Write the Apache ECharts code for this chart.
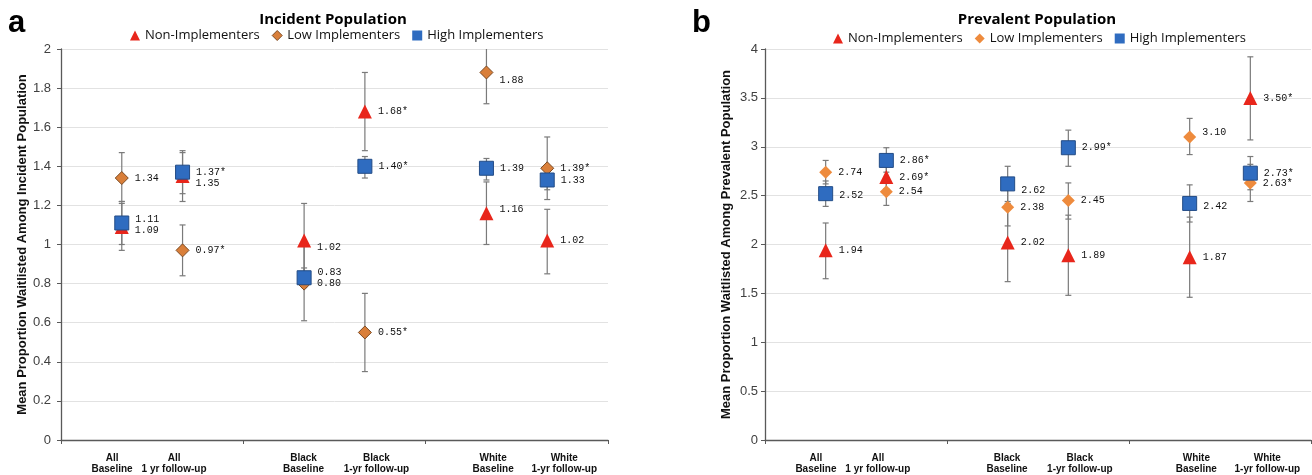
<!DOCTYPE html>
<html>
<head>
<meta charset="UTF-8">
<title>Waitlisting - Incident / Prevalent Population</title>
<script src="https://cdn.jsdelivr.net/npm/echarts@6/dist/echarts.min.js"></script>
<style>
  html, body { margin: 0; padding: 0; background: #fff; }
  #main { width: 1312px; height: 475px; }
</style>
</head>
<body>
<div id="main"></div>
<script>
// categories along x (3 groups x 2 time points)
var categories = ['All\nBaseline', 'All\n1 yr follow-up', 'Black\nBaseline', 'Black\n1-yr follow-up', 'White\nBaseline', 'White\n1-yr follow-up'];
var seriesNames = ['Non-Implementers', 'Low Implementers', 'High Implementers'];

// a - incident population
var incNon = [1.09, 1.35, 1.02, 1.68, 1.16, 1.02];
var incNonCI = [[0.97, 1.21], [1.22, 1.47], [0.83, 1.21], [1.48, 1.88], [1.00, 1.32], [0.85, 1.18]];
var incNonSig = [0, 0, 0, 1, 0, 0];
var incLow = [1.34, 0.97, 0.80, 0.55, 1.88, 1.39];
var incLowCI = [[1.22, 1.47], [0.84, 1.10], [0.61, 0.99], [0.35, 0.75], [1.72, 2.04], [1.23, 1.55]];
var incLowSig = [0, 1, 0, 1, 0, 1];
var incHigh = [1.11, 1.37, 0.83, 1.40, 1.39, 1.33];
var incHighCI = [[1.00, 1.22], [1.26, 1.48], [0.78, 0.88], [1.34, 1.45], [1.33, 1.44], [1.28, 1.38]];
var incHighSig = [0, 1, 0, 1, 0, 0];

// b - prevalent population
var prevNon = [1.94, 2.69, 2.02, 1.89, 1.87, 3.50];
var prevNonCI = [[1.65, 2.22], [2.57, 2.81], [1.62, 2.42], [1.48, 2.30], [1.46, 2.28], [3.07, 3.92]];
var prevNonSig = [0, 1, 0, 0, 0, 1];
var prevLow = [2.74, 2.54, 2.38, 2.45, 3.10, 2.63];
var prevLowCI = [[2.62, 2.86], [2.40, 2.67], [2.19, 2.57], [2.26, 2.63], [2.92, 3.29], [2.44, 2.82]];
var prevLowSig = [0, 0, 0, 0, 0, 1];
var prevHigh = [2.52, 2.86, 2.62, 2.99, 2.42, 2.73];
var prevHighCI = [[2.39, 2.65], [2.74, 2.99], [2.44, 2.80], [2.80, 3.17], [2.23, 2.61], [2.56, 2.90]];
var prevHighSig = [0, 1, 0, 1, 0, 1];

// where each category sits on the 0..3 group axis, and where its label is written
var xPos = [1 / 3, 2 / 3, 4 / 3, 5 / 3, 7 / 3, 8 / 3];
var labelPos = [0.28, 0.62, 1.33, 1.73, 2.37, 2.76];

var RED = '#e8261b', BLUE = '#2f6cc0', ORANGE_A = '#d97f3a', ORANGE_B = '#ee8b3d';

// small vertical nudges for labels that would collide (panel, series, category)
var nudge = { 'a0-0': 3, 'a2-0': -4, 'a0-1': 7, 'a0-2': 7, 'a2-2': -5, 'a1-4': 8, 'a0-4': -4,
              'b2-0': 2, 'b2-2': 6, 'b1-4': -5, 'b2-4': 3 };

var myChart = echarts.init(document.getElementById('main'));

function errorBars(params, api) {
  var x = api.value(0);
  var lo = api.coord([x, api.value(1)]);
  var hi = api.coord([x, api.value(2)]);
  var top = params.coordSys.y;
  var st = { stroke: '#7a7a7a', lineWidth: 1.2 };
  var kids = [
    { type: 'line', shape: { x1: lo[0], y1: lo[1], x2: hi[0], y2: Math.max(hi[1], top) }, style: st },
    { type: 'line', shape: { x1: lo[0] - 3, y1: lo[1], x2: lo[0] + 3, y2: lo[1] }, style: st }
  ];
  if (hi[1] >= top) {
    kids.push({ type: 'line', shape: { x1: hi[0] - 3, y1: hi[1], x2: hi[0] + 3, y2: hi[1] }, style: st });
  }
  return { type: 'group', children: kids };
}

function buildPanel(p, key, groups) {
  var out = [];
  var bars = [];
  groups.forEach(function (g) {
    g.ci.forEach(function (c, i) { bars.push([xPos[i], c[0], c[1]]); });
  });
  out.push({
    type: 'custom', xAxisIndex: p, yAxisIndex: p, z: 2, silent: true,
    renderItem: errorBars, encode: { x: 0, y: [1, 2] }, data: bars
  });
  groups.forEach(function (g, s) {
    g.style.opacity = 1;
    out.push({
      type: 'scatter', name: seriesNames[s], xAxisIndex: p, yAxisIndex: p, z: 3 + s,
      symbol: g.symbol, symbolSize: g.size, itemStyle: g.style,
      label: {
        show: true, position: 'right', distance: 6,
        fontFamily: 'Liberation Mono', fontSize: 10, color: '#111',
        formatter: function (d) { return d.data.txt; }
      },
      data: g.vals.map(function (v, i) {
        return {
          value: [xPos[i], v],
          txt: v.toFixed(2) + (g.sig[i] ? '*' : ''),
          label: { offset: [0, nudge[key + s + '-' + i] || 0] }
        };
      })
    });
  });
  return out;
}

var series = [].concat(
  buildPanel(0, 'a', [
    { vals: incNon, ci: incNonCI, sig: incNonSig, symbol: 'triangle', size: 14, style: { color: RED } },
    { vals: incLow, ci: incLowCI, sig: incLowSig, symbol: 'diamond', size: 13, style: { color: ORANGE_A, borderColor: '#7c4a22', borderWidth: 1 } },
    { vals: incHigh, ci: incHighCI, sig: incHighSig, symbol: 'rect', size: 14, style: { color: BLUE, borderColor: '#234c86', borderWidth: 1 } }
  ]),
  buildPanel(1, 'b', [
    { vals: prevNon, ci: prevNonCI, sig: prevNonSig, symbol: 'triangle', size: 14, style: { color: RED } },
    { vals: prevLow, ci: prevLowCI, sig: prevLowSig, symbol: 'diamond', size: 13, style: { color: ORANGE_B } },
    { vals: prevHigh, ci: prevHighCI, sig: prevHighSig, symbol: 'rect', size: 14, style: { color: BLUE, borderColor: '#234c86', borderWidth: 1 } }
  ])
);

function xAxisFor(p) {
  return {
    gridIndex: p, type: 'value', min: 0, max: 3, interval: 1,
    axisLine: { show: true, onZero: false, lineStyle: { color: '#595959', width: 1.3 } },
    axisTick: { show: true, length: 4, lineStyle: { color: '#595959' } },
    splitLine: { show: false },
    axisLabel: {
      customValues: labelPos, margin: 13, lineHeight: 11,
      fontFamily: 'Liberation Sans', fontWeight: 'bold', fontSize: 10, color: '#111',
      formatter: function (v) {
        for (var i = 0; i < labelPos.length; i++) {
          if (Math.abs(labelPos[i] - v) < 1e-6) return categories[i];
        }
        return '';
      }
    }
  };
}

function yAxisFor(p, max, step, name, margin) {
  return {
    gridIndex: p, type: 'value', min: 0, max: max, interval: step,
    name: name, nameLocation: 'middle', nameGap: 32,
    nameTextStyle: { fontFamily: 'Liberation Sans', fontWeight: 'bold', fontSize: 13, color: '#111' },
    axisLine: { show: true, lineStyle: { color: '#595959', width: 1.3 } },
    axisTick: { show: true, length: 4, lineStyle: { color: '#595959' } },
    splitLine: { show: true, lineStyle: { color: '#e2e2e2', width: 1 } },
    axisLabel: { margin: margin, fontFamily: 'Liberation Sans', fontSize: 13, color: '#404040' }
  };
}

function legendFor(left, top, orange, orangeBorder) {
  return {
    left: left, top: top, padding: 0, itemGap: 12, itemWidth: 10, itemHeight: 10,
    textStyle: { fontFamily: 'Open Sans', fontSize: 13, color: '#111' },
    data: [
      { name: seriesNames[0], icon: 'triangle', itemStyle: { color: RED, borderWidth: 0 } },
      { name: seriesNames[1], icon: 'diamond', itemStyle: { color: orange, borderColor: orangeBorder || orange, borderWidth: orangeBorder ? 1 : 0 } },
      { name: seriesNames[2], icon: 'rect', itemStyle: { color: BLUE, borderWidth: 0 } }
    ]
  };
}

var option = {
  animation: false,
  backgroundColor: '#fff',
  title: [
    { text: 'Incident Population', left: 333, top: 12, textAlign: 'center', padding: 0,
      textStyle: { fontFamily: 'Open Sans', fontSize: 15, fontWeight: 'bold', color: '#000' } },
    { text: 'Prevalent Population', left: 1037, top: 12, textAlign: 'center', padding: 0,
      textStyle: { fontFamily: 'Open Sans', fontSize: 15, fontWeight: 'bold', color: '#000' } },
    { text: 'a', left: 8, top: 8, padding: 0,
      textStyle: { fontFamily: 'Liberation Sans', fontSize: 31, fontWeight: 'bold', color: '#000' } },
    { text: 'b', left: 692, top: 8, padding: 0,
      textStyle: { fontFamily: 'Liberation Sans', fontSize: 31, fontWeight: 'bold', color: '#000' } }
  ],
  legend: [
    legendFor(130, 29, ORANGE_A, '#7c4a22'),
    legendFor(833, 32, ORANGE_B)
  ],
  grid: [
    { left: 61, top: 49, width: 547, height: 392 },
    { left: 765, top: 49, width: 546, height: 394 }
  ],
  xAxis: [xAxisFor(0), xAxisFor(1)],
  yAxis: [
    yAxisFor(0, 2, 0.2, 'Mean Proportion Waitlisted Among Incident Population', 10),
    yAxisFor(1, 4, 0.5, 'Mean Proportion Waitlisted Among Prevalent Population', 7)
  ],
  series: series
};

myChart.setOption(option);
</script>
</body>
</html>
